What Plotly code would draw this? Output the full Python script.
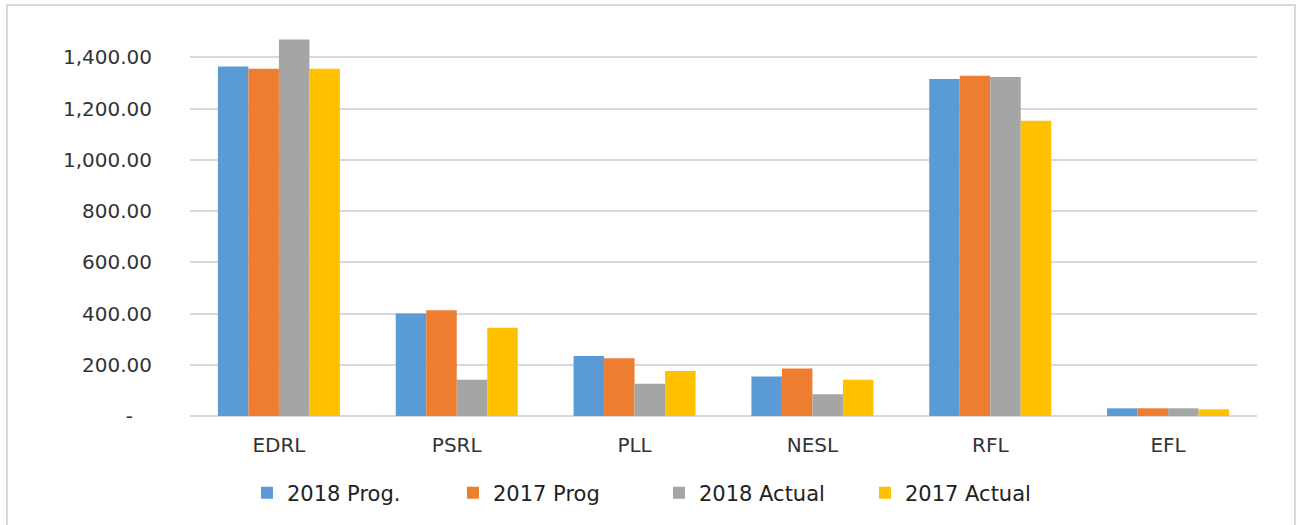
import plotly.graph_objects as go

categories = ["EDRL", "PSRL", "PLL", "NESL", "RFL", "EFL"]
series_names = ["2018 Prog.", "2017 Prog", "2018 Actual", "2017 Actual"]
prog_2018 = [1364, 400, 234, 154, 1315, 30]
prog_2017 = [1355, 413, 225, 185, 1328, 30]
actual_2018 = [1469, 141, 126, 85, 1323, 30]
actual_2017 = [1355, 344, 176, 141, 1152, 26]
tick_vals = [0, 200, 400, 600, 800, 1000, 1200, 1400]
tick_text = ["-\u00a0\u00a0\u00a0", "200.00", "400.00", "600.00", "800.00",
             "1,000.00", "1,200.00", "1,400.00"]

colors = ["#5B9BD5", "#ED7D31", "#A5A5A5", "#FFC000"]
values = [prog_2018, prog_2017, actual_2018, actual_2017]

fig = go.Figure()
for name, vals, col in zip(series_names, values, colors):
    fig.add_trace(go.Bar(x=categories, y=vals, name=name,
                         marker=dict(color=col, line=dict(width=0))))

fig.update_layout(
    width=1297, height=525,
    margin=dict(l=190, r=40, t=6, b=109),
    paper_bgcolor="white", plot_bgcolor="white",
    barmode="group", bargap=0.314, bargroupgap=0,
    font=dict(family="DejaVu Sans", size=20, color="#333333"),
    showlegend=True,
    legend=dict(orientation="h", x=0.0534, xanchor="left", y=-0.188, yanchor="middle",
                font=dict(family="DejaVu Sans", size=21, color="#222222"),
                entrywidth=161, entrywidthmode="pixels",
                bgcolor="rgba(0,0,0,0)"),
    xaxis=dict(showgrid=False, showline=False, ticks="", ticklabelstandoff=15,
               tickfont=dict(size=20, color="#333333")),
    yaxis=dict(range=[0, 1600], tickvals=tick_vals, ticktext=tick_text,
               showgrid=True, gridcolor="#D9D9D9", gridwidth=2,
               zeroline=True, zerolinecolor="#D9D9D9", zerolinewidth=2,
               showline=False, ticks="", ticklabelstandoff=37,
               tickfont=dict(size=20, color="#333333")),
    shapes=[dict(type="rect", xref="paper", yref="paper",
                 x0=-0.1715, x1=1.0356, y0=-0.5, y1=1.0024,
                 line=dict(color="#D9D9D9", width=2), fillcolor="rgba(0,0,0,0)",
                 layer="below")],
)

fig.write_html("out.html",
               config={"displayModeBar": False},
               post_script="document.body.style.margin='0';document.body.style.padding='0';")
